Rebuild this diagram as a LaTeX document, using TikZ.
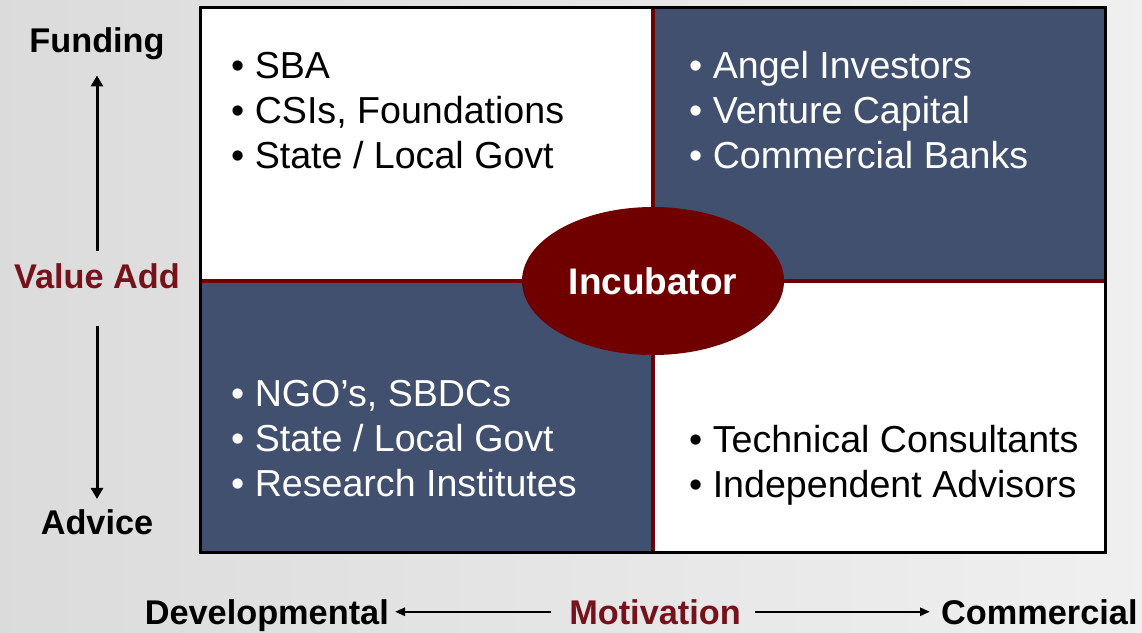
\documentclass[tikz,border=0pt]{standalone}
\usepackage{fontspec}
\setmainfont{Liberation Sans}
\usetikzlibrary{shapes.geometric,arrows.meta}
\definecolor{quadblue}{RGB}{66,80,111}
\definecolor{incred}{RGB}{112,0,0}
\definecolor{axisred}{RGB}{118,18,28}
\begin{document}
\begin{tikzpicture}[x=1pt,y=-1pt,
  lbl/.style={font=\fontsize{34.3}{40}\selectfont\bfseries, inner sep=0pt, anchor=base},
  items/.style={font=\fontsize{37.6}{45}\selectfont, align=left, anchor=north west, inner sep=0pt},
  vaxis/.style={-{Triangle[length=11pt,width=12pt]}, line width=3pt},
  haxis/.style={-{Triangle[length=10pt,width=8pt]}, line width=2.5pt}]

% background
\shade[left color=black!14, right color=black!6] (0,0) rectangle (1142,632);
\useasboundingbox (0,0) rectangle (1142,632);

% quadrants
\fill[white] (200,7) rectangle (1105,552);
\fill[quadblue] (653,7) rectangle (1105,281);
\fill[quadblue] (200,281) rectangle (653,552);
\draw[incred, line width=3.5pt] (653,7) -- (653,552);
\draw[incred, line width=3.5pt] (200,281) -- (1105,281);
\draw[black, line width=3pt] (200,7) rectangle (1105,552);

% centre
\node[ellipse, fill=incred, minimum width=262pt, minimum height=148pt, inner sep=0pt,
  text=white, font=\fontsize{37}{44}\selectfont\bfseries] (incubator) at (653,281) {Incubator};

% quadrant items
\node[items] (gov) at (231,52) {• SBA\\• CSIs, Foundations\\• State / Local Govt};
\node[items, text=white] (inv) at (689,51) {• Angel Investors\\• Venture Capital\\• Commercial Banks};
\node[items, text=white] (ngo) at (231,380) {• NGO’s, SBDCs\\• State / Local Govt\\• Research Institutes};
\node[items] (adv) at (689,425) {• Technical Consultants\\• Independent Advisors};

% vertical axis
\node[lbl] (funding) at (97,52) {Funding};
\node[lbl, text=axisred] (valueadd) at (97,288) {Value Add};
\node[lbl] (advice) at (97,534) {Advice};
\draw[vaxis, shorten <=12pt, shorten >=16pt] (valueadd.north) -- (funding.south);
\draw[vaxis, shorten <=37pt, shorten >=10pt] (valueadd.south) -- (advice.north);

% horizontal axis
\node[lbl, anchor=base east] (devel) at (389,624) {Developmental};
\node[lbl, text=axisred] (motiv) at (655,624) {Motivation};
\node[lbl, anchor=base west] (comm) at (941,624) {Commercial};
\draw[haxis, shorten <=18pt, shorten >=6pt] (motiv.west) -- (motiv.west -| devel.east);
\draw[haxis, shorten <=14pt, shorten >=11pt] (motiv.east) -- (motiv.east -| comm.west);
\end{tikzpicture}
\end{document}
